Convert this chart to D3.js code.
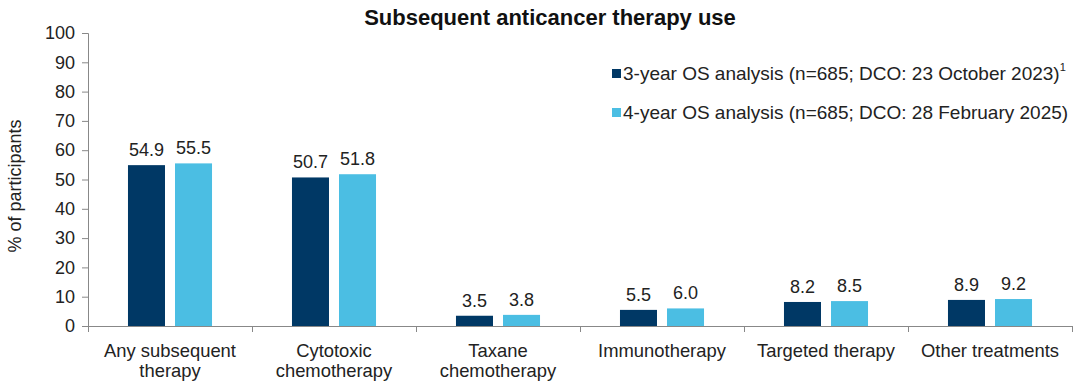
<!DOCTYPE html>
<html><head><meta charset="utf-8">
<script src="https://cdn.jsdelivr.net/npm/d3@7"></script>
<style>body{margin:0;background:#fff}svg{display:block;font-family:"Liberation Sans",Arial,sans-serif}</style>
</head><body>
<svg id="c" width="1080" height="388"></svg>
<script>
const categories = [["Any subsequent","therapy"],["Cytotoxic","chemotherapy"],["Taxane","chemotherapy"],["Immunotherapy"],["Targeted therapy"],["Other treatments"]];
const series3yr = [54.9, 50.7, 3.5, 5.5, 8.2, 8.9];
const series4yr = [55.5, 51.8, 3.8, 6.0, 8.5, 9.2];
const seriesNames = ["3-year OS analysis (n=685; DCO: 23 October 2023)", "4-year OS analysis (n=685; DCO: 28 February 2025)"];
const yTicks = [0,10,20,30,40,50,60,70,80,90,100];
const colors = ["#003865", "#4BBEE3"];

const svg = d3.select("#c");
const m = {l:88, r:1072, t:33, b:326};
const x = d3.scaleBand().domain(d3.range(categories.length)).range([m.l, m.r]).paddingInner(0).paddingOuter(0);
const y = d3.scaleLinear().domain([0,100]).range([m.b, m.t]);
const inner = d3.scaleBand().domain([0,1]).range([0, x.bandwidth()]).paddingInner(0.213).paddingOuter(0.85);

svg.append("text").attr("x",550).attr("y",25).attr("text-anchor","middle")
  .attr("font-size",22).attr("font-weight","bold").attr("fill","#111").text("Subsequent anticancer therapy use");

// y axis
const ya = svg.append("g").attr("transform",`translate(${m.l},0)`)
  .call(d3.axisLeft(y).tickValues(yTicks).tickSize(6).tickPadding(7));
ya.select(".domain").attr("stroke","#888");
ya.selectAll(".tick line").attr("stroke","#888");
ya.selectAll("text").attr("font-size",18).attr("fill","#222").attr("font-family","Liberation Sans, Arial, sans-serif");

svg.append("text").attr("transform","translate(21,186) rotate(-90)").attr("text-anchor","middle")
  .attr("font-size",18).attr("fill","#222").text("% of participants");

// bars
const data = categories.map((c,i)=>({i, v:[series3yr[i], series4yr[i]]}));
const g = svg.selectAll(".cat").data(data).join("g").attr("transform",d=>`translate(${x(d.i)},0)`);
g.selectAll("rect").data(d=>d.v.map((v,k)=>({v,k}))).join("rect")
  .attr("x",d=>inner(d.k)).attr("width",inner.bandwidth())
  .attr("y",d=>y(d.v)).attr("height",d=>y(0)-y(d.v)).attr("fill",d=>colors[d.k]);
g.selectAll("text.val").data(d=>d.v.map((v,k)=>({v,k}))).join("text").attr("class","val")
  .attr("x",d=>inner(d.k)+inner.bandwidth()/2).attr("y",d=>y(d.v)-9).attr("text-anchor","middle")
  .attr("font-size",18).attr("fill","#222").text(d=>d.v.toFixed(1));

// x axis
svg.append("line").attr("x1",m.l).attr("x2",m.r).attr("y1",m.b+0.5).attr("y2",m.b+0.5).attr("stroke","#888");
const bounds = d3.range(categories.length+1).map(i=> i<categories.length ? x(i) : x(i-1)+x.bandwidth());
svg.selectAll(".xt").data(bounds).join("line").attr("x1",d=>d+0.5).attr("x2",d=>d+0.5)
  .attr("y1",m.b).attr("y2",m.b+6).attr("stroke","#888");
const cl = svg.selectAll(".cl").data(categories).join("text").attr("text-anchor","middle")
  .attr("font-size",18.4).attr("fill","#222");
cl.selectAll("tspan").data((d,i)=>d.map(s=>({s,i}))).join("tspan")
  .attr("x",d=>x(d.i)+x.bandwidth()/2).attr("y",(d,j)=>357+j*20).text(d=>d.s);

// legend
const lg = svg.append("g");
seriesNames.forEach((n,k)=>{
  const yy = 80 + k*39;
  lg.append("rect").attr("x",612).attr("y",yy-11).attr("width",9).attr("height",9).attr("fill",colors[k]);
  const t = lg.append("text").attr("x",623).attr("y",yy).attr("font-size",19).attr("fill","#222").text(n);
  if(k===0) t.append("tspan").attr("dy",-9).attr("font-size",11).text("1");
});
</script>
</body></html>
